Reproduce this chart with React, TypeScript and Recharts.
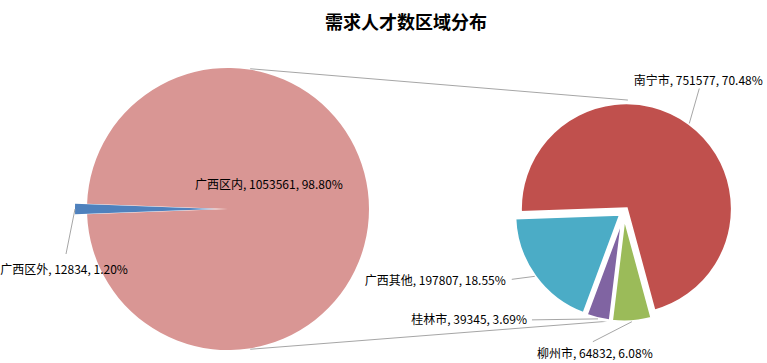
import React from 'react';
import { PieChart, Pie, Cell, Sector, Customized } from 'recharts';

// ---------- data ----------
const primaryNames = ['广西区内', '广西区外'];
const primaryValues = [1053561, 12834];
const primaryPercents = ['98.80%', '1.20%'];
const primaryColors = ['#D99694', '#4F81BD'];

const secondaryNames = ['南宁市', '柳州市', '桂林市', '广西其他'];
const secondaryValues = [751577, 64832, 39345, 197807];
const secondaryPercents = ['70.48%', '6.08%', '3.69%', '18.55%'];
const secondaryColors = ['#C0504D', '#9BBB59', '#8064A2', '#4BACC6'];

const title = '需求人才数区域分布';

// ---------- layout ----------
const W = 767;
const H = 363;
const L = { cx: 228, cy: 209, r: 141 };
const R = { cx: 624, cy: 212, r: 106 };
const FONT = "'Noto Sans CJK SC', 'Noto Sans', sans-serif";
const RAD = Math.PI / 180;

const primaryData = primaryNames.map((name, i) => ({ name, value: primaryValues[i], pct: primaryPercents[i] }));
const secondaryData = secondaryNames.map((name, i) => ({ name, value: secondaryValues[i], pct: secondaryPercents[i] }));

const primaryTotal = primaryValues.reduce((a, b) => a + b, 0);
const outsideSweep = (primaryValues[1] / primaryTotal) * 360;
const primaryStart = 180 - outsideSweep / 2;
const secondaryStart = 182;

const primaryExplode = [0, 12];
const secondaryExplode = [4, 4, 4, 4];

// label placement: leader end offset (lx, ly) from arc point, text position offset (tx, ty) from arc point
const primaryLabelCfg = [
  { inside: true, tx: -33, ty: -26, anchor: 'start', line: false },
  { lx: -9, ly: 45, tx: -11, ty: 59, anchor: 'middle', line: true },
];
const secondaryLabelCfg = [
  { lx: 10, ly: -35, tx: 9, ty: -44, anchor: 'middle', line: true },
  { lx: -39, ly: 20, tx: -37, ty: 31, anchor: 'middle', line: true },
  { lx: -66, ly: 1, tx: -71, ty: 0, anchor: 'end', line: true },
  { lx: -23, ly: 3, tx: -29, ty: 3, anchor: 'end', line: true },
];

const makeShape = (explode: number[]) => (props: any) => {
  const off = explode[props.index] ?? 0;
  const dx = off * Math.cos(-props.midAngle * RAD);
  const dy = off * Math.sin(-props.midAngle * RAD);
  return (
    <Sector
      cx={props.cx + dx}
      cy={props.cy + dy}
      innerRadius={props.innerRadius}
      outerRadius={props.outerRadius}
      startAngle={props.startAngle}
      endAngle={props.endAngle}
      fill={props.fill}
      stroke={props.stroke}
      strokeWidth={props.strokeWidth}
    />
  );
};

const makeLabel = (cfgs: any[], explode: number[]) => (props: any) => {
  const { cx, cy, midAngle, outerRadius, index, payload } = props;
  const cfg = cfgs[index];
  const off = explode[index] ?? 0;
  const cosA = Math.cos(-midAngle * RAD);
  const sinA = Math.sin(-midAngle * RAD);
  const text = `${payload.name}, ${payload.value}, ${payload.pct}`;
  if (cfg.inside) {
    return (
      <text x={cx + cfg.tx} y={cy + cfg.ty} textAnchor={cfg.anchor} dominantBaseline="central"
        fontFamily={FONT} fontSize={12} fill="#000">{text}</text>
    );
  }
  const ax = cx + (outerRadius + off) * cosA;
  const ay = cy + (outerRadius + off) * sinA;
  return (
    <g>
      {cfg.line && (
        <line x1={ax} y1={ay} x2={ax + cfg.lx} y2={ay + cfg.ly} stroke="#A6A6A6" strokeWidth={1} />
      )}
      <text x={ax + cfg.tx} y={ay + cfg.ty} textAnchor={cfg.anchor} dominantBaseline="central"
        fontFamily={FONT} fontSize={12} fill="#000">{text}</text>
    </g>
  );
};

const Decorations = () => {
  const p = (c: any, r: number, a: number) => ({ x: c.cx + r * Math.cos(-a * RAD), y: c.cy + r * Math.sin(-a * RAD) });
  const lt = p(L, L.r + 1, 81);
  const lb = p(L, L.r + 1, -81);
  const rt = p(R, R.r + 6, 88);
  const rb = p(R, R.r + 2, -81);
  return (
    <g>
      <text x={406} y={21} textAnchor="middle" dominantBaseline="central" fontFamily={FONT}
        fontSize={18} fontWeight="bold" fill="#000">{title}</text>
      <line x1={lt.x} y1={lt.y} x2={rt.x} y2={rt.y} stroke="#A6A6A6" strokeWidth={1} />
      <line x1={lb.x} y1={lb.y} x2={rb.x} y2={rb.y} stroke="#A6A6A6" strokeWidth={1} />
    </g>
  );
};

export default function App() {
  return (
    <div style={{ position: 'absolute', left: 0, top: 0, width: W, height: H, background: '#fff' }}>
      <PieChart width={W} height={H} margin={{ top: 0, right: 0, bottom: 0, left: 0 }}>
        <Customized component={Decorations} />
        <Pie
          data={primaryData}
          dataKey="value"
          nameKey="name"
          cx={L.cx}
          cy={L.cy}
          outerRadius={L.r}
          startAngle={primaryStart}
          endAngle={primaryStart - 360}
          stroke="none"
          isAnimationActive={false}
          shape={makeShape(primaryExplode)}
          label={makeLabel(primaryLabelCfg, primaryExplode)}
          labelLine={false}
        >
          {primaryData.map((d, i) => (
            <Cell key={d.name} fill={primaryColors[i]} />
          ))}
        </Pie>
        <Pie
          data={secondaryData}
          dataKey="value"
          nameKey="name"
          cx={R.cx}
          cy={R.cy}
          outerRadius={R.r}
          startAngle={secondaryStart}
          endAngle={secondaryStart - 360}
          stroke="#fff"
          strokeWidth={3}
          isAnimationActive={false}
          shape={makeShape(secondaryExplode)}
          label={makeLabel(secondaryLabelCfg, secondaryExplode)}
          labelLine={false}
        >
          {secondaryData.map((d, i) => (
            <Cell key={d.name} fill={secondaryColors[i]} />
          ))}
        </Pie>
      </PieChart>
    </div>
  );
}
